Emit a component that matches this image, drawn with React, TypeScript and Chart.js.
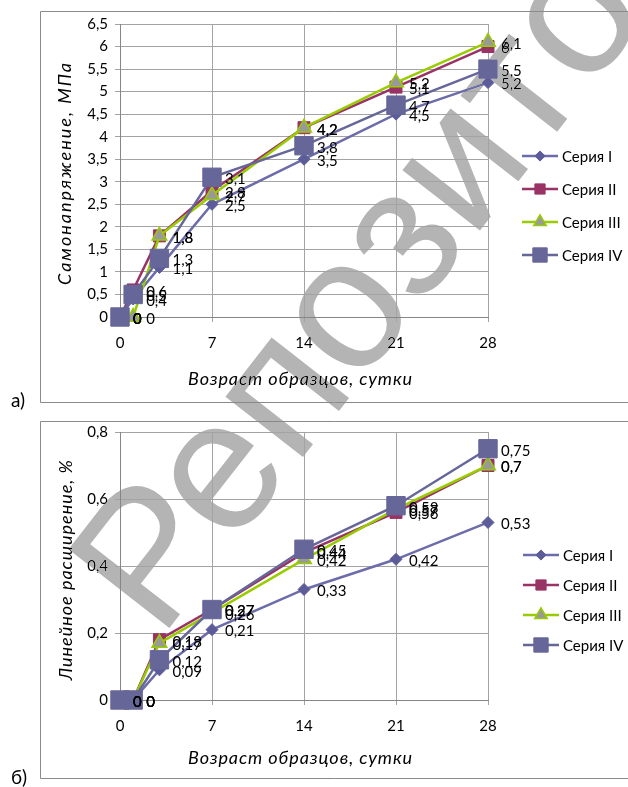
import React, { useEffect, useRef } from 'react';
import { Chart, registerables } from 'chart.js';

Chart.register(...registerables);

// ---------- data ----------
const DAYS = [0, 1, 3, 7, 14, 21, 28];
const SERIES_NAMES = ['Серия I', 'Серия II', 'Серия III', 'Серия IV'];

// a) Самонапряжение, МПа
const STRESS_I = [0, 0.4, 1.1, 2.5, 3.5, 4.5, 5.2];
const STRESS_II = [0, 0.6, 1.8, 2.8, 4.2, 5.1, 6.0];
const STRESS_III = [0, 0, 1.8, 2.7, 4.2, 5.2, 6.1];
const STRESS_IV = [0, 0.5, 1.3, 3.1, 3.8, 4.7, 5.5];

// б) Линейное расширение, %
const EXP_I = [0, 0, 0.09, 0.21, 0.33, 0.42, 0.53];
const EXP_II = [0, 0, 0.18, 0.27, 0.44, 0.56, 0.7];
const EXP_III = [0, 0, 0.17, 0.26, 0.42, 0.57, 0.7];
const EXP_IV = [0, 0, 0.12, 0.27, 0.45, 0.58, 0.75];

const X_TICKS = [0, 7, 14, 21, 28];
const Y_TICKS_A = [0, 0.5, 1, 1.5, 2, 2.5, 3, 3.5, 4, 4.5, 5, 5.5, 6, 6.5];
const Y_TICKS_B = [0, 0.2, 0.4, 0.6, 0.8];

const TITLE_X = 'Возраст образцов, сутки';
const TITLE_Y_A = 'Самонапряжение, МПа';
const TITLE_Y_B = 'Линейное расширение, %';
const TAG_A = 'а)';
const TAG_B = 'б)';
const WATERMARK = 'Репозиторий';

// ---------- styles ----------
const FONT = 'Lato, "Noto Sans", sans-serif';
const STYLES = [
  { line: '#6c6caa', fill: '#5c5c98', border: '#5c5c98', shape: 'rectRot', r: 6, bw: 1 },
  { line: '#993366', fill: '#993366', border: '#993366', shape: 'rect', r: 8.5, bw: 1 },
  { line: '#99cc00', fill: '#999999', border: '#99cc00', shape: 'triangle', r: 8.5, bw: 1.5 },
  { line: '#666699', fill: '#666699', border: '#666699', shape: 'rect', r: 13, bw: 1 },
];

const fmt = (v: number) => String(Math.round(v * 100) / 100).replace('.', ',');

function drawMarker(ctx: CanvasRenderingContext2D, shape: string, x: number, y: number, r: number, fill: string, stroke: string, bw: number) {
  ctx.beginPath();
  if (shape === 'rect') {
    const s = r * Math.SQRT1_2;
    ctx.rect(x - s, y - s, 2 * s, 2 * s);
  } else if (shape === 'rectRot') {
    ctx.moveTo(x, y - r);
    ctx.lineTo(x + r, y);
    ctx.lineTo(x, y + r);
    ctx.lineTo(x - r, y);
    ctx.closePath();
  } else {
    ctx.moveTo(x, y - r);
    ctx.lineTo(x + r * 0.866, y + r * 0.5);
    ctx.lineTo(x - r * 0.866, y + r * 0.5);
    ctx.closePath();
  }
  ctx.fillStyle = fill;
  ctx.fill();
  ctx.lineWidth = bw;
  ctx.strokeStyle = stroke;
  ctx.stroke();
}

function spacedText(ctx: CanvasRenderingContext2D, text: string, cx: number, cy: number, target: number) {
  (ctx as any).letterSpacing = '0px';
  const w = ctx.measureText(text).width;
  const n = text.length;
  const sp = Math.max(0, (target - w) / (n - 1));
  (ctx as any).letterSpacing = sp + 'px';
  ctx.textAlign = 'left';
  ctx.textBaseline = 'middle';
  ctx.fillText(text, cx - (w + sp * (n - 1)) / 2, cy);
  (ctx as any).letterSpacing = '0px';
}

interface PanelCfg {
  series: number[][];
  yTicks: number[];
  yMax: number;
  height: number;
  padTop: number;
  xAxisH: number;
  box: { top: number; bottom: number };
  tag: string;
  tagY: number;
  yTitle: string;
  yTitleX: number;
  yTitleY: number;
  yTitleLen: number;
  xTitleY: number;
  legendY: number[];
  legendX: number;
}

function buildConfig(p: PanelCfg): any {
  const datasets = p.series.map((vals, i) => ({
    label: SERIES_NAMES[i],
    data: DAYS.map((d, j) => ({ x: d, y: vals[j] })),
    borderColor: STYLES[i].line,
    backgroundColor: STYLES[i].fill,
    borderWidth: 2.5,
    pointStyle: STYLES[i].shape,
    pointRadius: STYLES[i].r,
    pointHoverRadius: STYLES[i].r,
    pointBackgroundColor: STYLES[i].fill,
    pointBorderColor: STYLES[i].border,
    pointBorderWidth: STYLES[i].bw,
    tension: 0,
    clip: false,
    order: 4 - i,
  }));

  const framePlugin = {
    id: 'frame',
    afterDraw(chart: any) {
      const ctx: CanvasRenderingContext2D = chart.ctx;
      ctx.save();
      ctx.strokeStyle = '#8a8a8a';
      ctx.lineWidth = 1;
      ctx.beginPath();
      ctx.moveTo(700, p.box.top + 0.5);
      ctx.lineTo(40.5, p.box.top + 0.5);
      ctx.lineTo(40.5, p.box.bottom + 0.5);
      ctx.lineTo(700, p.box.bottom + 0.5);
      ctx.stroke();
      ctx.fillStyle = '#000';
      ctx.font = '19px ' + FONT;
      ctx.textAlign = 'left';
      ctx.textBaseline = 'middle';
      ctx.fillText(p.tag, 11, p.tagY);
      // axis titles
      ctx.font = 'italic 18px ' + FONT;
      spacedText(ctx, TITLE_X, 300, p.xTitleY, 224);
      ctx.save();
      ctx.translate(p.yTitleX, p.yTitleY);
      ctx.rotate(-Math.PI / 2);
      spacedText(ctx, p.yTitle, 0, 0, p.yTitleLen);
      ctx.restore();
      // legend
      const lx1 = p.legendX, lx2 = p.legendX + 36;
      chart.data.datasets.forEach((ds: any, i: number) => {
        const y = p.legendY[i];
        const st = STYLES[i];
        ctx.strokeStyle = st.line;
        ctx.lineWidth = 2.5;
        ctx.beginPath();
        ctx.moveTo(lx1, y);
        ctx.lineTo(lx2, y);
        ctx.stroke();
        drawMarker(ctx, st.shape, (lx1 + lx2) / 2, y, st.r * (i === 3 ? 0.78 : 0.85), st.fill, st.border, st.bw);
        ctx.fillStyle = '#000';
        ctx.font = '15px ' + FONT;
        ctx.textAlign = 'left';
        ctx.textBaseline = 'middle';
        ctx.fillText(ds.label, lx2 + 4, y + 1);
      });
      ctx.restore();
    },
  };

  const labelPlugin = {
    id: 'valueLabels',
    afterDatasetsDraw(chart: any) {
      const ctx: CanvasRenderingContext2D = chart.ctx;
      ctx.save();
      ctx.font = '15px ' + FONT;
      ctx.fillStyle = '#000';
      ctx.textAlign = 'left';
      ctx.textBaseline = 'middle';
      chart.data.datasets.forEach((ds: any, i: number) => {
        const meta = chart.getDatasetMeta(i);
        meta.data.forEach((pt: any, j: number) => {
          ctx.fillText(fmt(ds.data[j].y), pt.x + 13, pt.y + 2);
        });
      });
      ctx.restore();
    },
  };

  const tickFont = { family: FONT, size: 15 };
  return {
    type: 'line',
    data: { datasets },
    options: {
      animation: false,
      responsive: false,
      devicePixelRatio: 1,
      events: [],
      layout: { padding: { top: p.padTop, right: 140, bottom: 0, left: 0 } },
      plugins: { legend: { display: false }, tooltip: { enabled: false } },
      scales: {
        x: {
          type: 'linear',
          min: 0,
          max: 28,
          afterBuildTicks: (s: any) => { s.ticks = X_TICKS.map((v) => ({ value: v })); },
          afterFit: (s: any) => { s.height = p.xAxisH; },
          ticks: { font: tickFont, color: '#000', padding: 12, maxRotation: 0, callback: (v: any) => fmt(Number(v)) },
          grid: { color: '#a3a3a3', lineWidth: 1, tickLength: 5, drawTicks: true },
          border: { color: '#868686', width: 1 },
        },
        y: {
          type: 'linear',
          min: 0,
          max: p.yMax,
          afterBuildTicks: (s: any) => { s.ticks = p.yTicks.map((v) => ({ value: v })); },
          afterFit: (s: any) => { s.width = 120; },
          ticks: { font: tickFont, color: '#000', padding: 7, callback: (v: any) => fmt(Number(v)) },
          grid: { color: '#a3a3a3', lineWidth: 1, tickLength: 5, drawTicks: true },
          border: { color: '#868686', width: 1 },
        },
      },
    },
    plugins: [labelPlugin, framePlugin],
  };
}

function Panel({ cfg, top }: { cfg: PanelCfg; top: number }) {
  const ref = useRef<HTMLCanvasElement>(null);
  useEffect(() => {
    const chart = new Chart(ref.current as HTMLCanvasElement, buildConfig(cfg));
    return () => chart.destroy();
  }, []);
  return (
    <canvas
      ref={ref}
      width={628}
      height={cfg.height}
      style={{ position: 'absolute', left: 0, top, width: 628, height: cfg.height }}
    />
  );
}

function Watermark() {
  const ref = useRef<HTMLCanvasElement>(null);
  useEffect(() => {
    const c = ref.current as HTMLCanvasElement;
    const ctx = c.getContext('2d') as CanvasRenderingContext2D;
    ctx.clearRect(0, 0, 628, 787);
    ctx.save();
    ctx.translate(160, 640);
    ctx.rotate((-52 * Math.PI) / 180);
    ctx.font = '186px "Liberation Sans", Arial, sans-serif';
    ctx.fillStyle = '#b4b4b4';
    ctx.textBaseline = 'alphabetic';
    ctx.fillText(WATERMARK, 0, 0);
    ctx.restore();
  }, []);
  return (
    <canvas
      ref={ref}
      width={628}
      height={787}
      style={{ position: 'absolute', left: 0, top: 0, width: 628, height: 787, pointerEvents: 'none', mixBlendMode: 'darken' }}
    />
  );
}

const PANEL_A: PanelCfg = {
  series: [STRESS_I, STRESS_II, STRESS_III, STRESS_IV],
  yTicks: Y_TICKS_A,
  yMax: 6.5,
  height: 412,
  padTop: 24,
  xAxisH: 95,
  box: { top: 11, bottom: 402 },
  tag: TAG_A,
  tagY: 401,
  yTitle: TITLE_Y_A,
  yTitleX: 65,
  yTitleY: 174,
  yTitleLen: 222,
  xTitleY: 379,
  legendY: [156, 189, 222, 255],
  legendX: 522,
};

const PANEL_B: PanelCfg = {
  series: [EXP_I, EXP_II, EXP_III, EXP_IV],
  yTicks: Y_TICKS_B,
  yMax: 0.8,
  height: 375,
  padTop: 20,
  xAxisH: 87,
  box: { top: 9, bottom: 366 },
  tag: TAG_B,
  tagY: 366,
  yTitle: TITLE_Y_B,
  yTitleX: 66,
  yTitleY: 158,
  yTitleLen: 220,
  xTitleY: 346,
  legendY: [143, 173, 203, 233],
  legendX: 523,
};

export default function App() {
  return (
    <div style={{ position: 'absolute', left: 0, top: 0, width: 628, height: 787, overflow: 'hidden', background: '#fff' }}>
      <Panel cfg={PANEL_A} top={0} />
      <Panel cfg={PANEL_B} top={412} />
      <Watermark />
    </div>
  );
}
